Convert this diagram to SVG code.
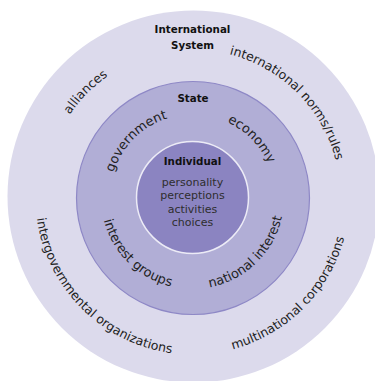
<svg xmlns="http://www.w3.org/2000/svg" xmlns:xlink="http://www.w3.org/1999/xlink" width="375" height="381" viewBox="0 0 375 381">
  <style>
    .title { font-family: "DejaVu Sans", Verdana, sans-serif; font-weight: bold; font-size: 10.3px; fill: #111; text-anchor: middle; }
    .inner { font-family: "DejaVu Sans", Verdana, sans-serif; font-size: 11px; fill: #2e2e2e; text-anchor: middle; }
    .ringOut { font-family: "DejaVu Sans", Verdana, sans-serif; font-size: 12.5px; fill: #222; text-anchor: middle; }
    .ringMid { font-family: "DejaVu Sans", Verdana, sans-serif; font-size: 13px; fill: #222; text-anchor: middle; }
  </style>
  <defs>
    <path id="topOut" d="M192.5,345.5 A148,148 0 1 1 192.5,49.5 A148,148 0 1 1 192.5,345.5" fill="none"/>
    <path id="botOut" d="M192.5,40.5 A157,157 0 1 0 192.5,354.5 A157,157 0 1 0 192.5,40.5" fill="none"/>
    <path id="topMid" d="M192.5,280.5 A83,83 0 1 1 192.5,114.5 A83,83 0 1 1 192.5,280.5" fill="none"/>
    <path id="botMid" d="M192.5,106 A91.5,91.5 0 1 0 192.5,289 A91.5,91.5 0 1 0 192.5,106" fill="none"/>
  </defs>
  <rect width="375" height="381" fill="#ffffff"/>

  <g id="international-system">
    <circle cx="193.5" cy="196.5" r="186" fill="#dcdaec"/>
    <text class="title" x="192.5" y="33">International</text>
    <text class="title" x="192.5" y="49">System</text>
    <text class="ringOut"><textPath xlink:href="#topOut" href="#topOut" startOffset="37.4%">alliances</textPath></text>
    <text class="ringOut"><textPath xlink:href="#topOut" href="#topOut" startOffset="62.5%">international norms/rules</textPath></text>
    <text class="ringOut"><textPath xlink:href="#botOut" href="#botOut" startOffset="37.5%">intergovernmental organizations</textPath></text>
    <text class="ringOut"><textPath xlink:href="#botOut" href="#botOut" startOffset="62.5%">multinational corporations</textPath></text>
  </g>

  <g id="state">
    <circle cx="193" cy="198" r="116.5" fill="#b1aed6" stroke="#8e88c6" stroke-width="1.2"/>
    <text class="title" x="193" y="102">State</text>
    <text class="ringMid"><textPath xlink:href="#topMid" href="#topMid" startOffset="37.5%">government</textPath></text>
    <text class="ringMid"><textPath xlink:href="#topMid" href="#topMid" startOffset="62.6%">economy</textPath></text>
    <text class="ringMid"><textPath xlink:href="#botMid" href="#botMid" startOffset="37.6%">interest groups</textPath></text>
    <text class="ringMid"><textPath xlink:href="#botMid" href="#botMid" startOffset="62.3%">national interest</textPath></text>
  </g>

  <g id="individual">
    <circle cx="192.5" cy="197.5" r="56" fill="#8b84c1" stroke="#ecebf6" stroke-width="1.5"/>
    <text class="title" x="192.5" y="165">Individual</text>
    <text class="inner" x="192.5" y="185.5">personality</text>
    <text class="inner" x="192.5" y="199">perceptions</text>
    <text class="inner" x="192.5" y="212.5">activities</text>
    <text class="inner" x="192.5" y="226">choices</text>
  </g>
</svg>
